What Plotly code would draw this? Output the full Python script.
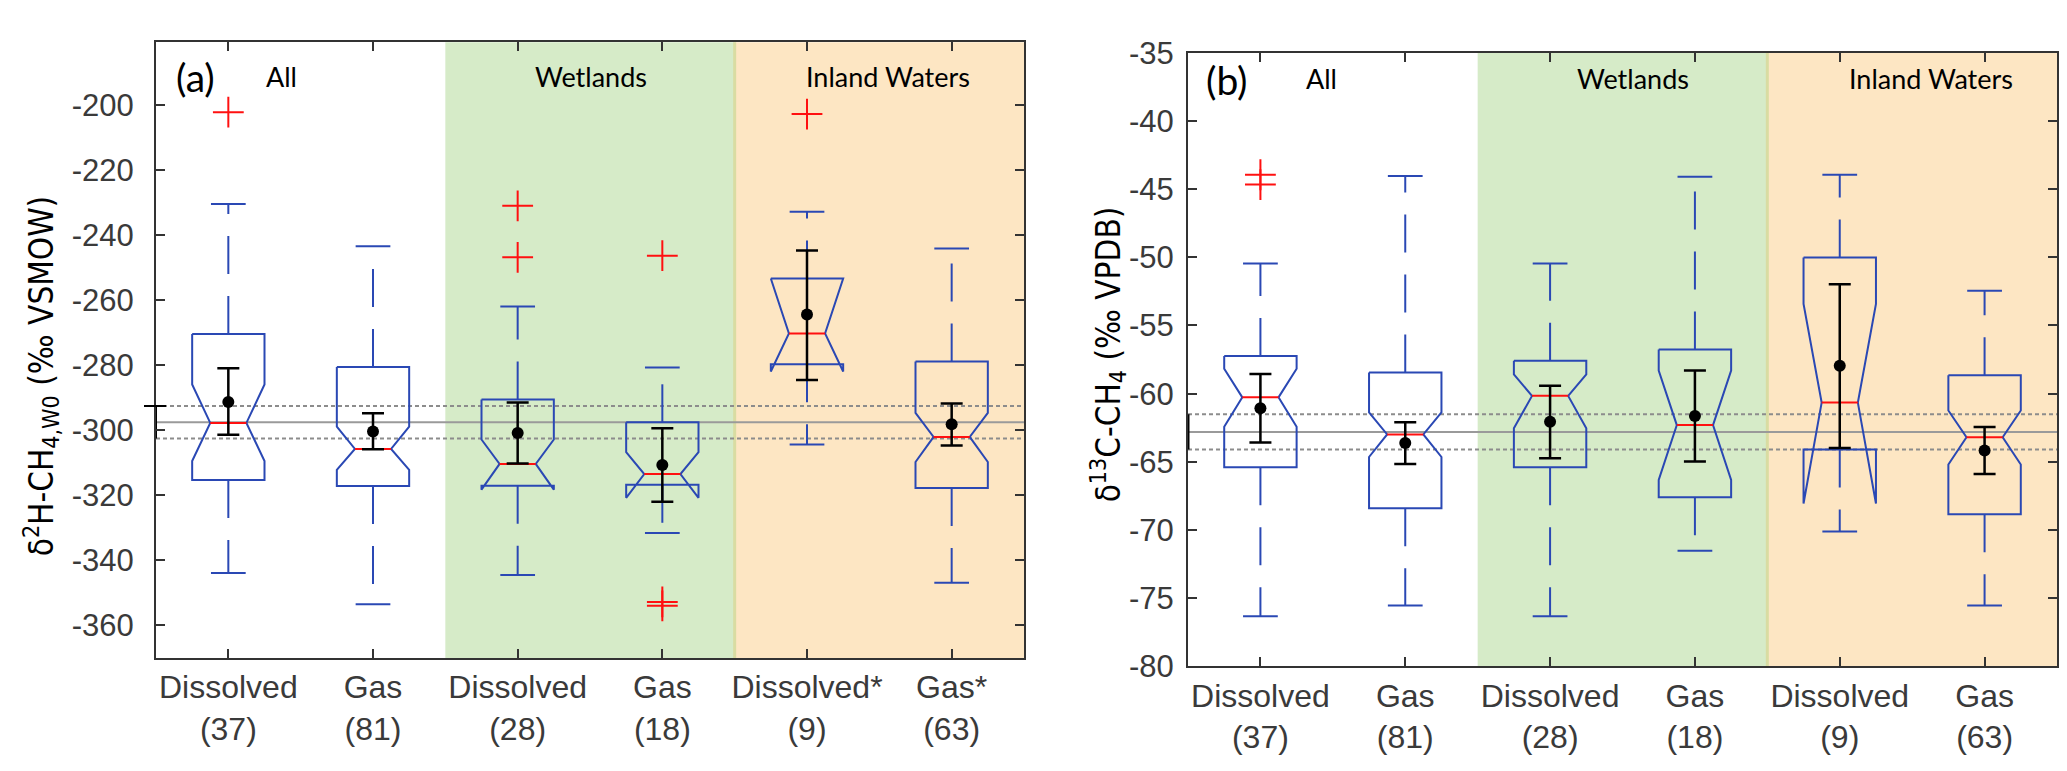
import plotly.graph_objects as go

# ---------------- data ----------------
categories_a = ["Dissolved<br>(37)", "Gas<br>(81)", "Dissolved<br>(28)", "Gas<br>(18)", "Dissolved*<br>(9)", "Gas*<br>(63)"]
categories_b = ["Dissolved<br>(37)", "Gas<br>(81)", "Dissolved<br>(28)", "Gas<br>(18)", "Dissolved<br>(9)", "Gas<br>(63)"]
positions = [1, 2, 3, 4, 5, 6]

# panel (a): delta2H-CH4
q3_a = [-270.5, -280.6, -290.6, -297.6, -253.4, -278.9]
notch_hi_a = [-286.0, -298.9, -302.9, -306.8, -253.4, -294.7]
median_a = [-297.8, -305.8, -310.4, -313.5, -270.3, -302.1]
notch_lo_a = [-309.5, -312.2, -318.3, -320.8, -282.0, -309.8]
q1_a = [-315.3, -317.2, -317.1, -316.8, -279.8, -317.8]
whisker_hi_a = [-230.5, -243.5, -262.0, -280.8, -232.9, -244.2]
whisker_lo_a = [-343.9, -353.5, -344.5, -331.6, -304.4, -346.9]
mean_a = [-291.4, -300.4, -300.9, -310.7, -264.5, -298.2]
err_hi_a = [-281.0, -294.8, -291.5, -299.4, -244.8, -291.8]
err_lo_a = [-301.4, -305.9, -310.3, -322.0, -284.6, -304.7]
outlier_x_a = [1, 3, 3, 4, 4, 4, 5]
outlier_y_a = [-202.3, -231.1, -246.9, -246.4, -352.8, -354.0, -202.9]
ref_a = [-297.6, -292.6, -302.6]  # overall mean, +sd, -sd

# panel (b): delta13C-CH4
q3_b = [-57.24, -58.44, -57.58, -56.76, -50.01, -58.65]
notch_hi_b = [-58.17, -61.37, -58.58, -58.30, -53.42, -61.23]
median_b = [-60.27, -62.99, -60.16, -62.30, -60.65, -63.19]
notch_lo_b = [-62.43, -64.64, -62.54, -66.33, -68.05, -65.19]
q1_b = [-65.40, -68.39, -65.40, -67.60, -64.09, -68.84]
whisker_hi_b = [-50.46, -44.05, -50.46, -44.09, -43.95, -52.45]
whisker_lo_b = [-76.31, -75.52, -76.31, -71.52, -70.11, -75.52]
mean_b = [-61.06, -63.61, -62.06, -61.64, -57.96, -64.16]
err_hi_b = [-58.55, -62.09, -59.41, -58.30, -51.97, -62.44]
err_lo_b = [-63.57, -65.15, -64.74, -64.98, -63.98, -65.88]
outlier_x_b = [1, 1]
outlier_y_b = [-43.95, -44.67]
ref_b = [-62.8, -61.5, -64.1]

ytick_a = [-360, -340, -320, -300, -280, -260, -240, -220, -200]
ytick_b = [-80, -75, -70, -65, -60, -55, -50, -45, -40, -35]

group_labels = ["All", "Wetlands", "Inland Waters"]
panel_letters = ["(a)", "(b)"]

# ---------------- styles ----------------
BLUE = "#2a48b4"
RED = "#ff1010"
W = 2067
H = 771
BOX_HW = 0.25
NOTCH_HW = 0.125
CAP_HW = 0.12

fig = go.Figure()


def add_panel(xa, ya, q3, nhi, med, nlo, q1, whi, wlo, mean, ehi, elo, ox, oy):
    xs, ys = [], []
    for p, a, b, m, c, d in zip(positions, q3, nhi, med, nlo, q1):
        L, R = p - BOX_HW, p + BOX_HW
        nl, nr = p - NOTCH_HW, p + NOTCH_HW
        xs += [L, L, nl, L, L, R, R, nr, R, R, L, None]
        ys += [a, b, m, c, d, d, c, m, b, a, a, None]
    fig.add_trace(go.Scatter(x=xs, y=ys, xaxis=xa, yaxis=ya, mode="lines",
                             line=dict(color=BLUE, width=2), hoverinfo="skip", showlegend=False))
    # medians
    mx, my = [], []
    for p, m in zip(positions, med):
        mx += [p - NOTCH_HW, p + NOTCH_HW, None]
        my += [m, m, None]
    fig.add_trace(go.Scatter(x=mx, y=my, xaxis=xa, yaxis=ya, mode="lines",
                             line=dict(color=RED, width=2), hoverinfo="skip", showlegend=False))
    # whiskers (dashed)
    wx, wy = [], []
    for p, a, h, d, l in zip(positions, q3, whi, q1, wlo):
        wx += [p, p, None, p, p, None]
        wy += [a, h, None, d, l, None]
    fig.add_trace(go.Scatter(x=wx, y=wy, xaxis=xa, yaxis=ya, mode="lines",
                             line=dict(color=BLUE, width=2, dash="38px,22px"),
                             hoverinfo="skip", showlegend=False))
    # whisker caps
    cx, cy = [], []
    for p, h, l in zip(positions, whi, wlo):
        cx += [p - CAP_HW, p + CAP_HW, None, p - CAP_HW, p + CAP_HW, None]
        cy += [h, h, None, l, l, None]
    fig.add_trace(go.Scatter(x=cx, y=cy, xaxis=xa, yaxis=ya, mode="lines",
                             line=dict(color=BLUE, width=2), hoverinfo="skip", showlegend=False))
    # outliers
    fig.add_trace(go.Scatter(x=ox, y=oy, xaxis=xa, yaxis=ya, mode="markers",
                             marker=dict(symbol="cross-thin", size=22, line=dict(color=RED, width=2)),
                             hoverinfo="skip", showlegend=False))
    # mean +/- error
    fig.add_trace(go.Scatter(x=positions, y=mean, xaxis=xa, yaxis=ya, mode="markers",
                             marker=dict(color="black", size=12),
                             error_y=dict(type="data", symmetric=False,
                                          array=[h - m for h, m in zip(ehi, mean)],
                                          arrayminus=[m - l for m, l in zip(mean, elo)],
                                          color="black", thickness=2.5, width=11),
                             hoverinfo="skip", showlegend=False))


add_panel("x", "y", q3_a, notch_hi_a, median_a, notch_lo_a, q1_a, whisker_hi_a, whisker_lo_a,
          mean_a, err_hi_a, err_lo_a, outlier_x_a, outlier_y_a)
add_panel("x2", "y2", q3_b, notch_hi_b, median_b, notch_lo_b, q1_b, whisker_hi_b, whisker_lo_b,
          mean_b, err_hi_b, err_lo_b, outlier_x_b, outlier_y_b)

# overall-mean bar at the left axis
fig.add_trace(go.Scatter(x=[0.5, 0.5], y=[ref_a[2], ref_a[1]], xaxis="x", yaxis="y", mode="lines",
                         line=dict(color="black", width=2), cliponaxis=False, hoverinfo="skip", showlegend=False))
fig.add_trace(go.Scatter(x=[0.5, 0.5], y=[ref_b[2], ref_b[1]], xaxis="x2", yaxis="y2", mode="lines",
                         line=dict(color="black", width=3), cliponaxis=False, hoverinfo="skip", showlegend=False))

shapes = []
for xr, yr, ref in (("x", "y", ref_a), ("x2", "y2", ref_b)):
    shapes.append(dict(type="rect", xref=xr, yref=yr + " domain", x0=2.5, x1=4.5, y0=0, y1=1,
                       fillcolor="#d6ebc8", line=dict(width=0), layer="below"))
    shapes.append(dict(type="rect", xref=xr, yref=yr + " domain", x0=4.5, x1=6.5, y0=0, y1=1,
                       fillcolor="#fde6c3", line=dict(width=0), layer="below"))
    shapes.append(dict(type="line", xref=xr, yref=yr + " domain", x0=4.5, x1=4.5, y0=0, y1=1,
                       line=dict(color="#d9dca2", width=3), layer="below"))
    shapes.append(dict(type="line", xref=xr + " domain", yref=yr, x0=0, x1=1, y0=ref[0], y1=ref[0],
                       line=dict(color="#9a9a9a", width=2), layer="below"))
    for v in ref[1:]:
        shapes.append(dict(type="line", xref=xr + " domain", yref=yr, x0=0, x1=1, y0=v, y1=v,
                           line=dict(color="#8c8c8c", width=2, dash="4px,3px"), layer="below"))
# cap of the overall-mean bar (a), crossing the axis
shapes.append(dict(type="line", xref="paper", yref="y", x0=136 / W, x1=158 / W, y0=ref_a[1], y1=ref_a[1],
                   line=dict(color="black", width=2)))

TICKFONT = dict(family="Liberation Sans, Arial, sans-serif", size=31, color="#3a3a3a")
XTICKFONT = dict(family="Liberation Sans, Arial, sans-serif", size=32, color="#3a3a3a")
axis_common = dict(showline=True, linecolor="#333333", linewidth=2, mirror="ticks", ticks="inside",
                   ticklen=9, tickwidth=2, tickcolor="#333333", showgrid=False, zeroline=False)

fig.update_layout(
    width=W, height=H, margin=dict(l=0, r=0, t=0, b=0),
    paper_bgcolor="white", plot_bgcolor="white", showlegend=False,
    shapes=shapes,
    xaxis=dict(domain=[148 / W, 1016 / W], range=[0.5, 6.5], tickvals=positions, ticktext=categories_a,
               anchor="y", ticklabelstandoff=0, tickfont=XTICKFONT, **axis_common),
    yaxis=dict(domain=[1 - 663 / H, 1 - 18 / H], range=[-370, -180.8], tickvals=ytick_a,
               ticktext=[str(v) for v in ytick_a], tickfont=TICKFONT,
               anchor="x", ticklabelstandoff=14, **axis_common),
    xaxis2=dict(domain=[1180 / W, 2049 / W], range=[0.5, 6.5], tickvals=positions, ticktext=categories_b,
                anchor="y2", ticklabelstandoff=0, tickfont=XTICKFONT, **axis_common),
    yaxis2=dict(domain=[1 - 672 / H, 1 - 29 / H], range=[-80, -35], tickvals=ytick_b,
                ticktext=[str(v) for v in ytick_b], tickfont=TICKFONT,
                anchor="x2", ticklabelstandoff=6, **axis_common),
)

LABFONT = "Lato, Noto Sans, sans-serif"
TITLEFONT = "Liberation Sans Narrow, DejaVu Sans Condensed, sans-serif"
ann = []
for xr, letter, letter_x, letter_y, label_x, label_y in (
        ("x", panel_letters[0], 0.77, 54, [1.37, 3.51, 5.56], 54),
        ("x2", panel_letters[1], 0.77, 58, [1.42, 3.57, 5.63], 56)):
    ann.append(dict(x=letter_x, y=1 - letter_y / H, xref=xr, yref="paper", text=letter, showarrow=False,
                    font=dict(family=LABFONT, size=39, color="black"), xanchor="center", yanchor="middle"))
    for xv, t in zip(label_x, group_labels):
        ann.append(dict(x=xv, y=1 - label_y / H, xref=xr, yref="paper", text=t, showarrow=False,
                        font=dict(family=LABFONT, size=27, color="black"), xanchor="center", yanchor="middle"))
ann.append(dict(x=33 / W, y=1 - 368 / H, xref="paper", yref="paper", textangle=-90, showarrow=False,
                text="δ<sup>2</sup>H-CH<sub>4,W0</sub> (‰ VSMOW)",
                font=dict(family=TITLEFONT, size=33, color="black"), xanchor="center", yanchor="middle"))
ann.append(dict(x=1100 / W, y=1 - 345 / H, xref="paper", yref="paper", textangle=-90, showarrow=False,
                text="δ<sup>13</sup>C-CH<sub>4</sub> (‰ VPDB)",
                font=dict(family=TITLEFONT, size=33, color="black"), xanchor="center", yanchor="middle"))
fig.update_layout(annotations=ann)

fig.write_html("out.html")
